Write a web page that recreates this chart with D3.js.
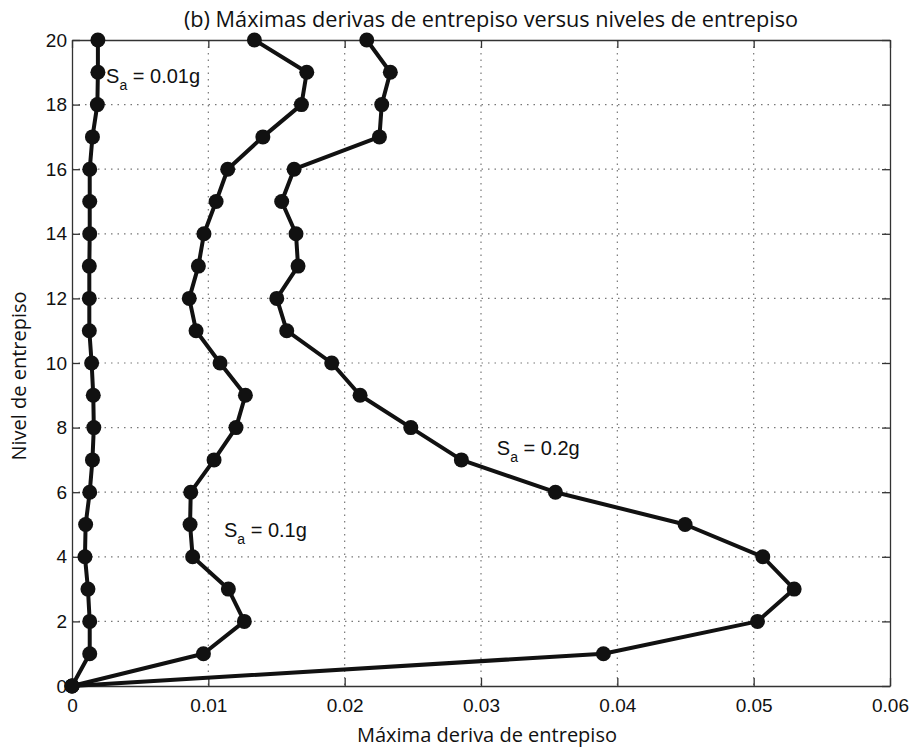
<!DOCTYPE html>
<html>
<head>
<meta charset="utf-8">
<script src="https://cdn.jsdelivr.net/npm/d3@7"></script>
<style>
  body { margin: 0; background: #fff; }
</style>
</head>
<body>
<div class="chart"></div>
<script>
var svgWidth = 914;
var svgHeight = 751;

var margin = { top: 40, right: 24, bottom: 65, left: 72 };
var width = 890 - margin.left;
var height = 686 - margin.top;

// niveles de entrepiso 0..20
var levels = d3.range(0, 21);

// Sa = 0.01g
var drift001 = [0, 0.0013, 0.0013, 0.00117, 0.00095, 0.001, 0.0013, 0.0015, 0.0016, 0.00156, 0.00144,
  0.00127, 0.00127, 0.00127, 0.0013, 0.0013, 0.0013, 0.0015, 0.00186, 0.0019, 0.0019];
// Sa = 0.1g
var drift01 = [0, 0.00964, 0.01264, 0.01147, 0.00885, 0.00866, 0.00871, 0.01042, 0.01203, 0.01272, 0.01086,
  0.0091, 0.0086, 0.00927, 0.00968, 0.01057, 0.01142, 0.0140, 0.01683, 0.01722, 0.01338];
// Sa = 0.2g
var drift02 = [0, 0.03898, 0.05028, 0.05297, 0.05067, 0.04497, 0.03546, 0.02856, 0.02485, 0.02113, 0.01905,
  0.01575, 0.01502, 0.01658, 0.01643, 0.01538, 0.01629, 0.02255, 0.02272, 0.02335, 0.02162];

var xTicks = [0, 0.01, 0.02, 0.03, 0.04, 0.05, 0.06];
var yTicks = [0, 2, 4, 6, 8, 10, 12, 14, 16, 18, 20];

var tickFont = '"Liberation Sans", Arial, sans-serif';
var labelFont = '"Open Sans", "Noto Sans", sans-serif';

var svg = d3.select(".chart")
  .append("svg")
  .attr("width", svgWidth)
  .attr("height", svgHeight);

var chartGroup = svg.append("g")
  .attr("transform", `translate(${margin.left}, ${margin.top})`);

var xScale = d3.scaleLinear().domain([0, 0.06]).range([0, width]);
var yScale = d3.scaleLinear().domain([0, 20]).range([height, 0]);

// grid (dotted)
chartGroup.append("g")
  .selectAll("line")
  .data(xTicks.slice(1, -1))
  .enter().append("line")
  .attr("x1", d => xScale(d)).attr("x2", d => xScale(d))
  .attr("y1", 0).attr("y2", height)
  .attr("stroke", "#777").attr("stroke-width", 1.2)
  .attr("stroke-dasharray", "1.5,5");

chartGroup.append("g")
  .selectAll("line")
  .data(yTicks.slice(1, -1))
  .enter().append("line")
  .attr("x1", 0).attr("x2", width)
  .attr("y1", d => yScale(d)).attr("y2", d => yScale(d))
  .attr("stroke", "#777").attr("stroke-width", 1.2)
  .attr("stroke-dasharray", "1.5,5");

// axes, ticks inside like matlab
var bottomAxis = d3.axisBottom(xScale).tickValues(xTicks).tickSizeInner(-8).tickSizeOuter(0).tickPadding(13)
  .tickFormat(d => d === 0 ? "0" : String(+d.toFixed(2)));
var topAxis = d3.axisTop(xScale).tickValues(xTicks).tickSizeInner(-8).tickSizeOuter(0).tickFormat("");
var leftAxis = d3.axisLeft(yScale).tickValues(yTicks).tickSizeInner(-8).tickSizeOuter(0).tickPadding(5);
var rightAxis = d3.axisRight(yScale).tickValues(yTicks).tickSizeInner(-8).tickSizeOuter(0).tickFormat("");

[
  chartGroup.append("g").attr("transform", `translate(0, ${height})`).call(bottomAxis),
  chartGroup.append("g").call(topAxis),
  chartGroup.append("g").call(leftAxis),
  chartGroup.append("g").attr("transform", `translate(${width}, 0)`).call(rightAxis)
].forEach(function(g) {
  g.select(".domain").attr("stroke", "#333").attr("stroke-width", 1.3);
  g.selectAll(".tick line").attr("stroke", "#333").attr("stroke-width", 1.3);
  g.selectAll(".tick text")
    .attr("fill", "#111")
    .style("font-family", tickFont)
    .style("font-size", "19px");
});

// series
var series = [drift001, drift01, drift02];
var line = d3.line()
  .x(d => xScale(d[0]))
  .y(d => yScale(d[1]));

series.forEach(function(vals) {
  var pts = vals.map((v, i) => [v, levels[i]]);
  chartGroup.append("path")
    .datum(pts)
    .attr("d", line)
    .attr("fill", "none")
    .attr("stroke", "#111")
    .attr("stroke-width", 4)
    .attr("stroke-linejoin", "round");
  chartGroup.selectAll(null)
    .data(pts)
    .enter()
    .append("circle")
    .attr("cx", d => xScale(d[0]))
    .attr("cy", d => yScale(d[1]))
    .attr("r", 7.5)
    .attr("fill", "#111");
});

// annotations
function annot(x, y, val) {
  var t = chartGroup.append("text")
    .style("font-family", tickFont)
    .style("font-size", "20px")
    .attr("fill", "#111")
    .attr("x", xScale(x)).attr("y", yScale(y));
  t.append("tspan").text("S");
  t.append("tspan").attr("dy", 7).style("font-size", "14px").text("a");
  t.append("tspan").attr("dy", -7).text(" = " + val);
}
annot(0.00250, 18.67, "0.01g");
annot(0.01115, 4.61, "0.1g");
annot(0.03116, 7.15, "0.2g");

// title and labels
svg.append("text")
  .style("font-family", labelFont).style("font-size", "21.7px").attr("fill", "#111")
  .attr("x", 491).attr("y", 27)
  .attr("text-anchor", "middle")
  .text("(b) Máximas derivas de entrepiso versus niveles de entrepiso");

svg.append("text")
  .style("font-family", labelFont).style("font-size", "20px").attr("fill", "#111")
  .attr("x", 487).attr("y", 742)
  .attr("text-anchor", "middle")
  .text("Máxima deriva de entrepiso");

svg.append("text")
  .style("font-family", labelFont).style("font-size", "20px").attr("fill", "#111")
  .attr("transform", "rotate(-90)")
  .attr("x", -376).attr("y", 26)
  .attr("text-anchor", "middle")
  .text("Nivel de entrepiso");
</script>
</body>
</html>
